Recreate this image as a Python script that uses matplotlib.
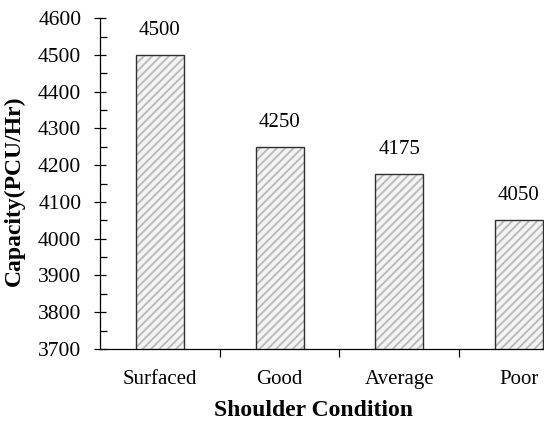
import matplotlib
matplotlib.use("Agg")
import matplotlib.pyplot as plt
import numpy as np

categories = ["Surfaced", "Good", "Average", "Poor"]
capacity = [4500, 4250, 4175, 4050]
y_ticks = [3700, 3800, 3900, 4000, 4100, 4200, 4300, 4400, 4500, 4600]

plt.rcParams['font.family'] = ['Liberation Serif', 'DejaVu Serif']
plt.rcParams['hatch.linewidth'] = 1.3

fig = plt.figure(figsize=(5.44, 4.23), dpi=100)
ax = fig.add_axes([0.184, 0.175, 0.816, 0.782])

x = np.arange(len(categories))
# hatched fill (gray lines on light background)
ax.bar(x, capacity, width=0.4, color='#f3f3f3', edgecolor='#b8b8b8',
       linewidth=0, hatch='////', zorder=2)
# outline
ax.bar(x, capacity, width=0.4, fill=False, edgecolor='#303030',
       linewidth=1.0, zorder=3)
for xi, v in zip(x, capacity):
    ax.annotate(str(v), (xi, v), xytext=(0, 11), textcoords='offset points',
                ha='center', va='bottom', fontsize=15)

ax.set_ylim(3700, 4600)
ax.set_xlim(-0.5, 3.21)
ax.set_yticks(y_ticks)
ax.set_yticks(np.arange(3750, 4600, 100), minor=True)
ax.tick_params(axis='y', which='major', direction='inout', length=9, width=0.9,
               labelsize=15.5, pad=9)
ax.tick_params(axis='y', which='minor', direction='in', length=5, width=0.9)

ax.set_xticks([0.5, 1.5, 2.5])
ax.set_xticklabels([])
ax.set_xticks(x, minor=True)
ax.set_xticklabels(categories, minor=True)
ax.tick_params(axis='x', which='major', direction='out', length=6, width=0.9)
ax.tick_params(axis='x', which='minor', length=0, labelsize=15, pad=15)

for s in ['top', 'right']:
    ax.spines[s].set_visible(False)
for s in ['left', 'bottom']:
    ax.spines[s].set_linewidth(0.9)

fig.text(14 / 544, 1 - 191 / 423, 'Capacity(PCU/Hr)', rotation=90,
         ha='center', va='center', fontsize=17, fontweight='bold')
fig.text(314 / 544, 1 - 410 / 423, 'Shoulder Condition',
         ha='center', va='center', fontsize=17, fontweight='bold')

fig.savefig('out.png', dpi=100)
